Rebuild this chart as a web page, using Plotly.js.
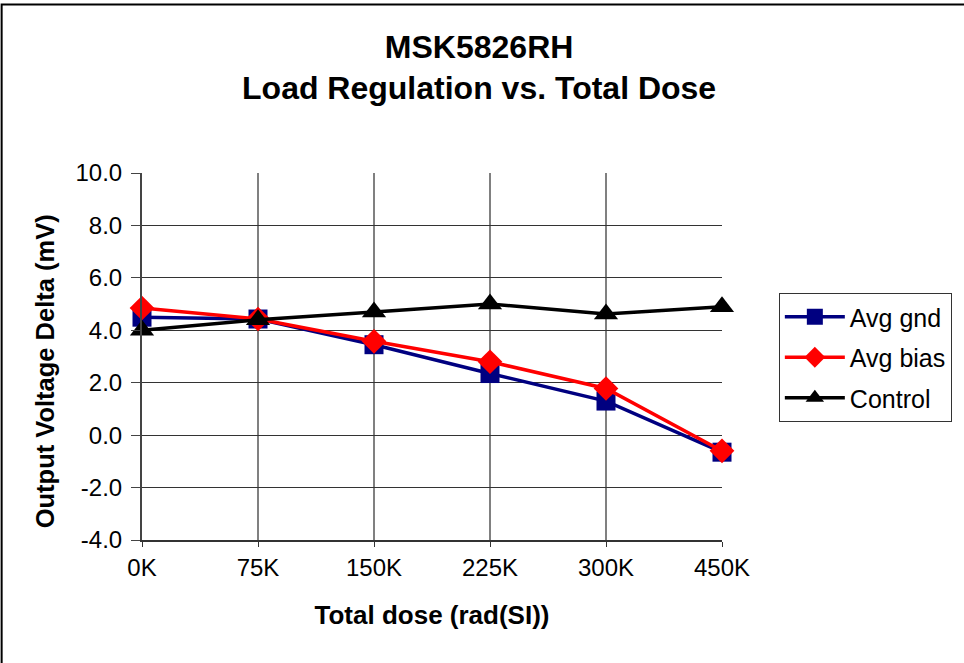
<!DOCTYPE html>
<html>
<head>
<meta charset="utf-8">
<script src="https://cdn.plot.ly/plotly-3.0.1.min.js"></script>
<style>
  html, body { margin: 0; padding: 0; background: #fff; }
  #chart { width: 964px; height: 663px; }
</style>
</head>
<body>
<div id="chart"></div>
<script>
// dose steps on the x axis
const doseLabels = ['0K', '75K', '150K', '225K', '300K', '450K'];

// output voltage delta, mV
const avgGnd = [4.5, 4.43, 3.45, 2.35, 1.3, -0.65];
const avgBias = [4.85, 4.43, 3.58, 2.8, 1.78, -0.6];
const control = [4.0, 4.4, 4.7, 5.0, 4.62, 4.9];

const yTicks = [-4, -2, 0, 2, 4, 6, 8, 10];

function makeTrace(name, values, color, symbol, size, group) {
    return {
        x: doseLabels,
        y: values,
        name: name,
        type: 'scatter',
        mode: 'lines+markers',
        legendgroup: group,
        cliponaxis: false,
        line: { color: color, width: 3.5 },
        marker: { color: color, symbol: symbol, size: size }
    };
}

const traces = [
    makeTrace('Avg gnd', avgGnd, '#000080', 'square', 19, 'a'),
    makeTrace('Avg bias', avgBias, '#ff0000', 'diamond', 19, 'b'),
    makeTrace('Control', control, '#000000', 'triangle-up', 21, 'c')
];

const layout = {
    width: 964,
    height: 663,
    margin: { l: 142, r: 242, t: 173, b: 123 },
    paper_bgcolor: '#ffffff',
    plot_bgcolor: '#ffffff',
    font: { family: 'Arial, "Liberation Sans", sans-serif', color: '#000' },
    title: {
        text: '<b>MSK5826RH<br>Load Regulation vs. Total Dose</b>',
        font: { size: 32 },
        x: 0.497,
        xanchor: 'center',
        xref: 'container',
        y: 0.913,
        yanchor: 'middle'
    },
    xaxis: {
        type: 'category',
        range: [0, 5],
        showgrid: true,
        gridcolor: '#808080',
        gridwidth: 2,
        showline: true,
        linecolor: '#333',
        linewidth: 2,
        ticks: 'outside',
        ticklen: 5,
        tickcolor: '#333',
        tickfont: { size: 24 },
        zeroline: false,
        title: { text: '<b>Total dose (rad(SI))</b>', font: { size: 26 }, standoff: 26 }
    },
    yaxis: {
        range: [-4, 10],
        tickvals: yTicks,
        ticktext: yTicks.map(v => v.toFixed(1)),
        showgrid: true,
        gridcolor: '#333',
        gridwidth: 1,
        showline: true,
        linecolor: '#444',
        linewidth: 2,
        ticks: 'outside',
        ticklen: 9,
        tickcolor: '#444',
        tickfont: { size: 24 },
        ticklabelstandoff: 4,
        zeroline: false
    },
    annotations: [
        // y title sits a little below the axis middle in the original
        {
            text: '<b>Output Voltage Delta (mV)</b>',
            xref: 'paper',
            yref: 'paper',
            x: -0.167,
            y: 0.46,
            xanchor: 'center',
            yanchor: 'middle',
            textangle: -90,
            showarrow: false,
            font: { size: 25.5 }
        }
    ],
    showlegend: true,
    legend: {
        x: 1.098,
        xanchor: 'left',
        y: 0.673,
        yanchor: 'top',
        bgcolor: '#ffffff',
        bordercolor: '#333',
        borderwidth: 1,
        font: { size: 25 },
        traceorder: 'grouped',
        tracegroupgap: 5,
        itemwidth: 60
    },
    shapes: [
        // outer chart frame, only its top and left edges fall inside the picture
        {
            type: 'path',
            xref: 'paper',
            yref: 'paper',
            path: 'M -0.242,-0.5 L -0.242,1.459 L 1.6,1.459',
            line: { color: '#000', width: 2 }
        }
    ]
};

Plotly.newPlot('chart', traces, layout, { staticPlot: true });
</script>
</body>
</html>
